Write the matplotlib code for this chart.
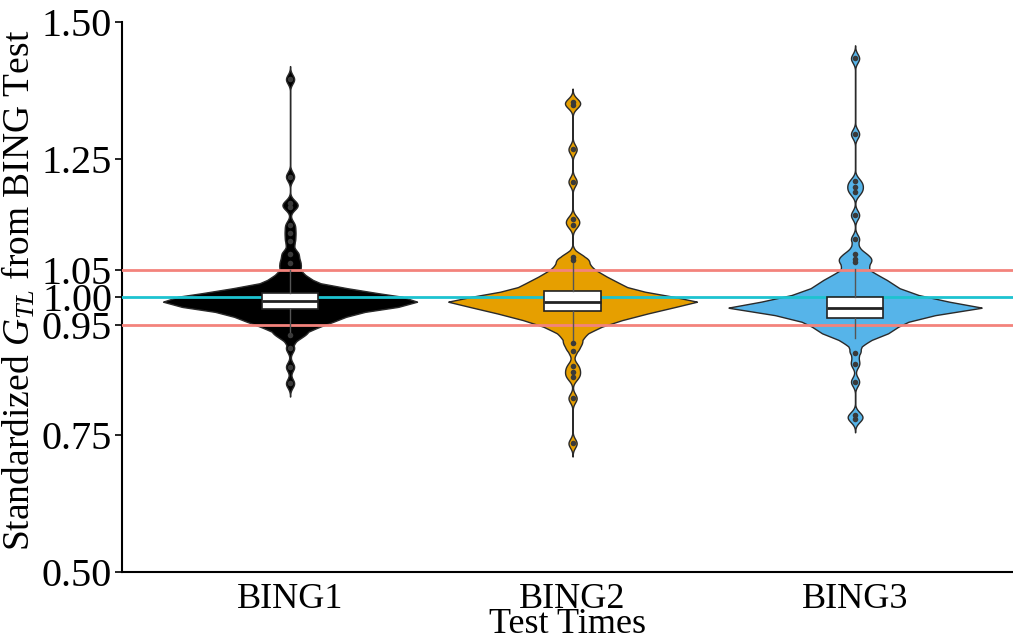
import numpy as np
import matplotlib
matplotlib.use("Agg")
import matplotlib.pyplot as plt

plt.rcParams["font.family"] = ["Liberation Serif", "DejaVu Serif"]
plt.rcParams["mathtext.fontset"] = "custom"
plt.rcParams["mathtext.it"] = "Liberation Serif:italic"
plt.rcParams["mathtext.rm"] = "Liberation Serif"

categories = ["BING1", "BING2", "BING3"]
colors = ["#000000", "#E69F00", "#56B4E9"]

# Violin body: GTL level and relative density (1.0 = widest point)
body1_levels = [0.912, 0.920, 0.928, 0.937, 0.946, 0.955, 0.964, 0.973, 0.982, 0.9915,
                1.0006, 1.0067, 1.016, 1.025, 1.031, 1.040, 1.050, 1.060, 1.070, 1.080, 1.090, 1.100]
body1_dens = [0.0, 0.03, 0.07, 0.12, 0.23, 0.34, 0.44, 0.59, 0.85, 1.0,
              0.88, 0.70, 0.45, 0.24, 0.18, 0.12, 0.07, 0.05, 0.04, 0.03, 0.01, 0.0]

body2_levels = [0.900, 0.910, 0.922, 0.934, 0.946, 0.958, 0.970, 0.982, 0.9915, 1.0006,
                1.0096, 1.018, 1.025, 1.037, 1.049, 1.061, 1.073, 1.085, 1.095]
body2_dens = [0.0, 0.02, 0.05, 0.12, 0.23, 0.39, 0.59, 0.81, 0.98, 0.79,
              0.57, 0.43, 0.37, 0.27, 0.18, 0.10, 0.04, 0.01, 0.0]

body3_levels = [0.895, 0.905, 0.910, 0.922, 0.934, 0.946, 0.955, 0.967, 0.9806, 0.9915,
                1.0036, 1.016, 1.031, 1.049, 1.060, 1.075, 1.090, 1.100]
body3_dens = [0.0, 0.02, 0.04, 0.13, 0.26, 0.34, 0.42, 0.63, 1.0, 0.74,
              0.50, 0.35, 0.25, 0.11, 0.07, 0.04, 0.02, 0.0]

# Box statistics per test
q1 = [0.9787, 0.975, 0.9618]
med = [0.9933, 0.9915, 0.9806]
q3 = [1.0067, 1.011, 0.9994]
whis_lo = [0.936, 0.922, 0.925]
whis_hi = [1.050, 1.062, 1.051]

# Outlying GTL values
out1 = [1.396, 1.219, 1.170, 1.164, 1.131, 1.116, 1.101, 1.079, 1.061,
        0.931, 0.907, 0.873, 0.843]
out2 = [1.355, 1.349, 1.2685, 1.2097, 1.141, 1.131, 1.073, 1.067,
        0.917, 0.902, 0.875, 0.864, 0.854, 0.816, 0.734]
out3 = [1.434, 1.2964, 1.210, 1.200, 1.190, 1.149, 1.105, 1.078, 1.070, 1.064,
        0.899, 0.879, 0.846, 0.785, 0.778]

bodies = [(body1_levels, body1_dens), (body2_levels, body2_dens), (body3_levels, body3_dens)]
outliers = [out1, out2, out3]

ref_lines = [1.05, 1.00, 0.95]
ref_colors = ["#F3837C", "#1DC3D0", "#F3837C"]
yticks = [0.50, 0.75, 0.95, 1.00, 1.05, 1.25, 1.50]

fig = plt.figure(figsize=(10.13, 6.43), dpi=100)
ax = fig.add_axes([0.1204, 0.1104, 0.8796, 0.8554])

half_width = 0.45
bw = 0.008
bump = 0.032

for i, ((lv, dn), outs) in enumerate(zip(bodies, outliers)):
    lo = min(min(lv), min(outs)) - 3 * bw
    hi = max(max(lv), max(outs)) + 3 * bw
    y = np.arange(lo, hi, 0.0004)
    w = np.interp(y, lv, dn, left=0, right=0)
    for o in outs:
        w += bump * np.exp(-0.5 * ((y - o) / bw) ** 2)
    ax.fill_betweenx(y, i - w * half_width, i + w * half_width,
                     facecolor=colors[i], edgecolor="#2a2a2a", linewidth=1.0, zorder=2)

for v, c in zip(ref_lines, ref_colors):
    ax.axhline(v, color=c, linewidth=2.0, zorder=3)

stats = []
for i in range(3):
    stats.append(dict(q1=q1[i], med=med[i], q3=q3[i], whislo=whis_lo[i],
                      whishi=whis_hi[i], fliers=outliers[i]))
ax.bxp(stats, positions=[0, 1, 2], widths=0.2, patch_artist=True,
       showcaps=False, showfliers=True,
       boxprops=dict(facecolor="white", edgecolor="#222222", linewidth=1.2),
       medianprops=dict(color="#222222", linewidth=2.0),
       whiskerprops=dict(color="#555555", linewidth=1.0),
       flierprops=dict(marker="o", markersize=4.0, markerfacecolor="#3a3a3a",
                       markeredgecolor="none"),
       zorder=4)

ax.set_xlim(-0.595, 2.559)
ax.set_ylim(0.5, 1.5)
ax.set_xticks([0, 1, 2])
ax.set_xticklabels(categories, fontsize=26)
ax.set_yticks(yticks)
ax.set_yticklabels([f"{t:.2f}" for t in yticks], fontsize=29)
ax.tick_params(axis="x", length=0, pad=8)
ax.tick_params(axis="y", length=5, width=1.2, pad=2)
for s in ["top", "right"]:
    ax.spines[s].set_visible(False)
for s in ["left", "bottom"]:
    ax.spines[s].set_linewidth(1.5)
ax.set_xlabel("Test Times", fontsize=26, labelpad=-6)
ax.set_ylabel("Standardized $G_{TL}$ from BING Test", fontsize=27)
ax.yaxis.set_label_coords(-0.095, 0.513)

fig.savefig("out.png", dpi=100)
